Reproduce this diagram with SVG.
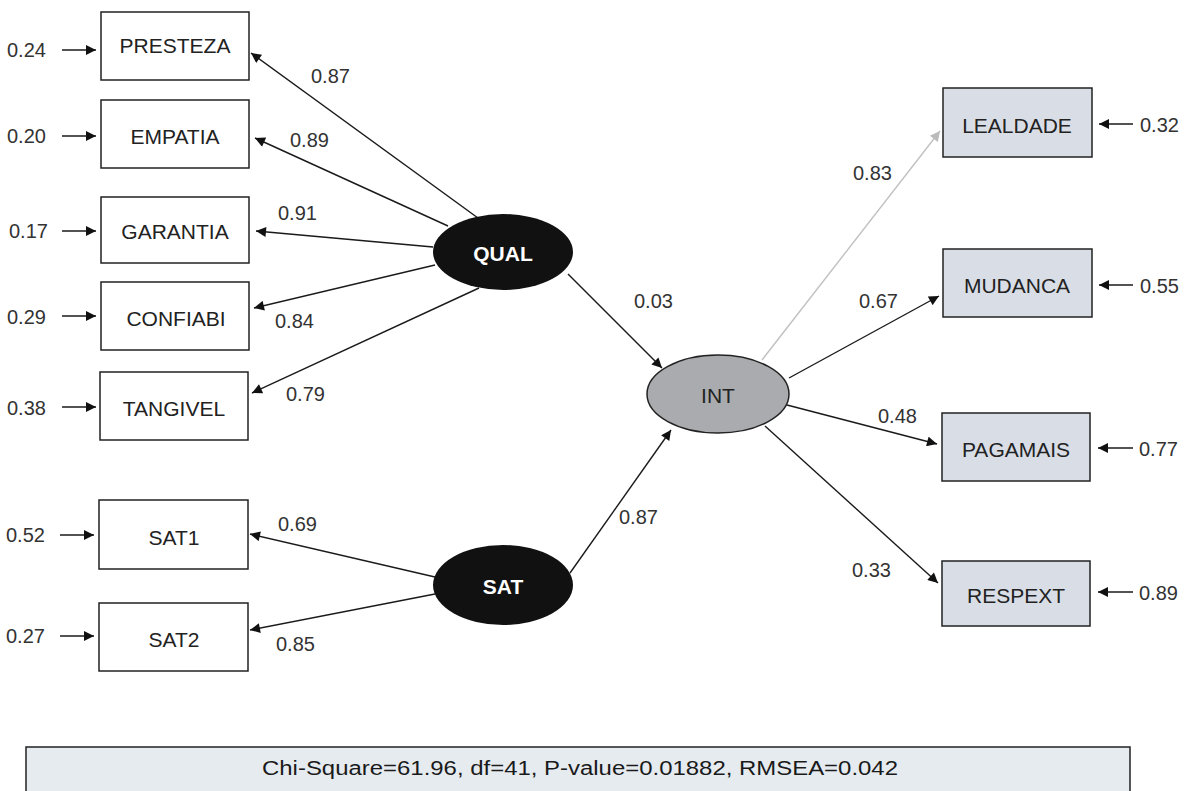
<svg xmlns="http://www.w3.org/2000/svg" width="1195" height="791" viewBox="0 0 1195 791">
<defs>
<marker id="ah" viewBox="0 0 10 10" refX="10" refY="5" markerWidth="12" markerHeight="10" markerUnits="userSpaceOnUse" orient="auto"><path d="M0,0 L10,5 L0,10 Z" fill="#111"/></marker>
<marker id="ahg" viewBox="0 0 10 10" refX="10" refY="5" markerWidth="12" markerHeight="10" markerUnits="userSpaceOnUse" orient="auto"><path d="M0,0 L10,5 L0,10 Z" fill="#bbb"/></marker>
<style>
.t{font-family:"Liberation Sans",Arial,sans-serif;font-size:20px;fill:#333}
.lbl{font-family:"Liberation Sans",Arial,sans-serif;font-size:21px;fill:#222;text-anchor:middle;dominant-baseline:central}
.box{fill:#fff;stroke:#222;stroke-width:1.5}
.rbox{fill:#d9dee6;stroke:#222;stroke-width:1.5}
.c{stroke:#1a1a1a;stroke-width:1.4;fill:none;marker-end:url(#ah)}
.cg{stroke:#c0c0c0;stroke-width:1.4;fill:none;marker-end:url(#ahg)}
</style>
</defs>
<rect width="1195" height="791" fill="#fff"/>

<g id="connectors">
<line class="c" x1="62" y1="50" x2="96" y2="50"/>
<line class="c" x1="62" y1="136" x2="96" y2="136"/>
<line class="c" x1="62" y1="231" x2="96" y2="231"/>
<line class="c" x1="62" y1="316" x2="96" y2="316"/>
<line class="c" x1="62" y1="407" x2="96" y2="407"/>
<line class="c" x1="60" y1="535" x2="94" y2="535"/>
<line class="c" x1="60" y1="636" x2="94" y2="636"/>
<line class="c" x1="478" y1="218" x2="251" y2="53"/>
<line class="c" x1="448" y1="226" x2="255" y2="138"/>
<line class="c" x1="433" y1="247" x2="256" y2="231"/>
<line class="c" x1="435" y1="265" x2="254" y2="308"/>
<line class="c" x1="479" y1="288" x2="252" y2="393"/>
<line class="c" x1="435" y1="577" x2="250" y2="534"/>
<line class="c" x1="435" y1="594" x2="250" y2="630"/>
<line class="c" x1="568" y1="274" x2="662" y2="368"/>
<line class="c" x1="570" y1="573" x2="671" y2="430"/>
<line class="cg" x1="762" y1="360" x2="940" y2="131"/>
<line class="c" x1="789" y1="378" x2="939" y2="296"/>
<line class="c" x1="787" y1="405" x2="937" y2="444"/>
<line class="c" x1="765" y1="426" x2="938" y2="583"/>
<line class="c" x1="1133" y1="124" x2="1099" y2="124"/>
<line class="c" x1="1133" y1="285" x2="1099" y2="285"/>
<line class="c" x1="1133" y1="448" x2="1098" y2="448"/>
<line class="c" x1="1133" y1="592" x2="1098" y2="592"/>
</g>

<g id="PRESTEZA"><rect class="box" x="101" y="12" width="148" height="68"/><text class="lbl" x="175" y="45">PRESTEZA</text></g>
<g id="EMPATIA"><rect class="box" x="101" y="100" width="148" height="68"/><text class="lbl" x="175" y="136">EMPATIA</text></g>
<g id="GARANTIA"><rect class="box" x="101" y="197" width="148" height="66"/><text class="lbl" x="175" y="231">GARANTIA</text></g>
<g id="CONFIABI"><rect class="box" x="101" y="282" width="148" height="68"/><text class="lbl" x="176" y="318">CONFIABI</text></g>
<g id="TANGIVEL"><rect class="box" x="100" y="372" width="148" height="68"/><text class="lbl" x="174" y="408">TANGIVEL</text></g>
<g id="SAT1"><rect class="box" x="99" y="500" width="149" height="69"/><text class="lbl" x="174" y="537">SAT1</text></g>
<g id="SAT2"><rect class="box" x="99" y="603" width="149" height="68"/><text class="lbl" x="174" y="639">SAT2</text></g>

<g id="QUAL"><ellipse cx="503" cy="252" rx="70" ry="38" fill="#111"/><text class="lbl" x="503" y="253" style="fill:#fff;font-weight:bold">QUAL</text></g>
<g id="SAT"><ellipse cx="503" cy="585" rx="70" ry="40" fill="#111"/><text class="lbl" x="503" y="586" style="fill:#fff;font-weight:bold">SAT</text></g>
<g id="INT"><ellipse cx="718" cy="394" rx="71" ry="39" fill="#a9abae" stroke="#222" stroke-width="1.5"/><text class="lbl" x="718" y="395">INT</text></g>

<g id="LEALDADE"><rect class="rbox" x="943" y="88" width="149" height="69"/><text class="lbl" x="1017" y="125">LEALDADE</text></g>
<g id="MUDANCA"><rect class="rbox" x="943" y="249" width="149" height="68"/><text class="lbl" x="1017" y="285">MUDANCA</text></g>
<g id="PAGAMAIS"><rect class="rbox" x="942" y="413" width="148" height="68"/><text class="lbl" x="1016" y="449">PAGAMAIS</text></g>
<g id="RESPEXT"><rect class="rbox" x="942" y="561" width="148" height="65"/><text class="lbl" x="1016" y="595">RESPEXT</text></g>

<g id="labels" class="t">
<text x="7" y="57">0.24</text>
<text x="7" y="143">0.20</text>
<text x="9" y="238">0.17</text>
<text x="7" y="324">0.29</text>
<text x="7" y="415">0.38</text>
<text x="6" y="542">0.52</text>
<text x="6" y="643">0.27</text>
<text x="311" y="83">0.87</text>
<text x="290" y="147">0.89</text>
<text x="278" y="220">0.91</text>
<text x="275" y="328">0.84</text>
<text x="286" y="401">0.79</text>
<text x="278" y="531">0.69</text>
<text x="276" y="651">0.85</text>
<text x="634" y="308">0.03</text>
<text x="619" y="524">0.87</text>
<text x="853" y="180">0.83</text>
<text x="859" y="308">0.67</text>
<text x="878" y="423">0.48</text>
<text x="852" y="577">0.33</text>
<text x="1140" y="132">0.32</text>
<text x="1140" y="293">0.55</text>
<text x="1139" y="456">0.77</text>
<text x="1139" y="600">0.89</text>
</g>

<g id="fit">
<rect x="26" y="747" width="1104" height="50" fill="#e6ebf0" stroke="#222" stroke-width="1.5"/>
<text x="262" y="775" textLength="636" lengthAdjust="spacingAndGlyphs" style="font-family:'Liberation Sans',Arial,sans-serif;font-size:20px;fill:#1a1a1a">Chi-Square=61.96, df=41, P-value=0.01882, RMSEA=0.042</text>
</g>
</svg>
